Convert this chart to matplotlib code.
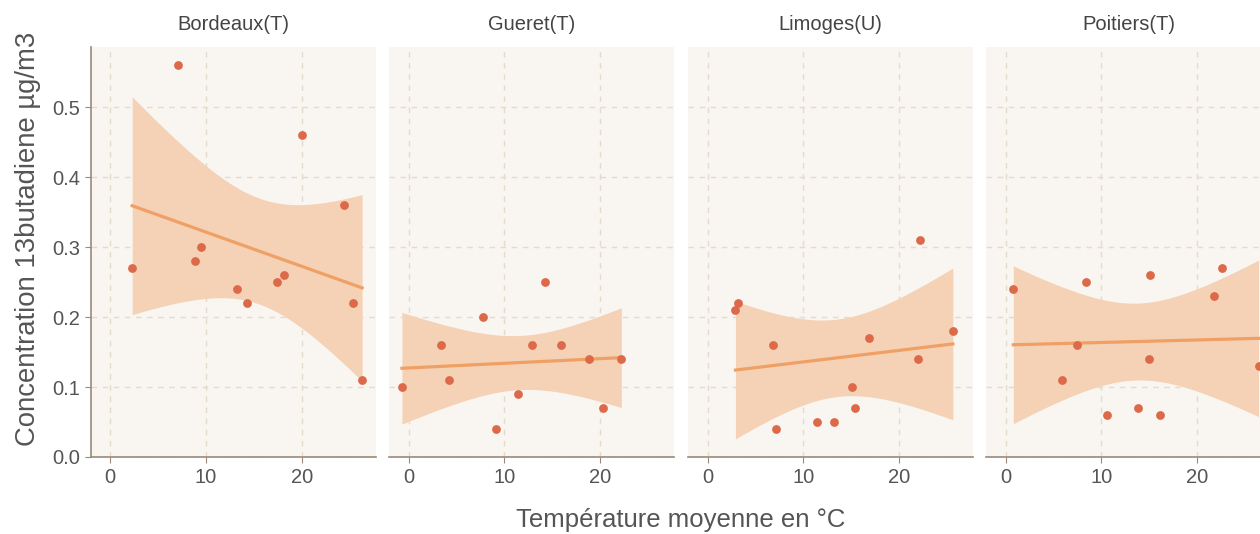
import numpy as np
import matplotlib.pyplot as plt

# %%
sites = ["Bordeaux(T)", "Gueret(T)", "Limoges(U)", "Poitiers(T)"]

temp_bordeaux = [2.3, 7.1, 8.9, 9.5, 13.2, 14.3, 17.4, 18.2, 20.0, 24.4, 25.4, 26.3]
conc_bordeaux = [0.27, 0.56, 0.28, 0.30, 0.24, 0.22, 0.25, 0.26, 0.46, 0.36, 0.22, 0.11]

temp_gueret = [-0.7, 3.4, 4.2, 7.8, 9.1, 11.4, 12.9, 14.2, 15.9, 18.8, 20.3, 22.2]
conc_gueret = [0.10, 0.16, 0.11, 0.20, 0.04, 0.09, 0.16, 0.25, 0.16, 0.14, 0.07, 0.14]

temp_limoges = [2.9, 3.2, 6.8, 7.1, 11.4, 13.2, 15.1, 15.4, 16.8, 22.0, 22.2, 25.6]
conc_limoges = [0.21, 0.22, 0.16, 0.04, 0.05, 0.05, 0.10, 0.07, 0.17, 0.14, 0.31, 0.18]

temp_poitiers = [0.8, 5.9, 7.5, 8.4, 10.6, 13.8, 15.0, 15.1, 16.1, 21.8, 22.6, 26.4]
conc_poitiers = [0.24, 0.11, 0.16, 0.25, 0.06, 0.07, 0.14, 0.26, 0.06, 0.23, 0.27, 0.13]

temps = [temp_bordeaux, temp_gueret, temp_limoges, temp_poitiers]
concs = [conc_bordeaux, conc_gueret, conc_limoges, conc_poitiers]

# %%
bg = "#F9F6F1"
spine_c = "#9A8A7A"
grid_c = "#E4DCCB"
pt_c = "#DC6A4A"
line_c = "#F0A065"
band_c = "#F5D2B5"
txt_c = "#555555"
T_95 = 2.228  # t quantile, df = 10

plt.rcParams['font.family'] = ['Liberation Sans', 'DejaVu Sans']

fig = plt.figure(figsize=(12.6, 5.34), dpi=100)
lefts = [90.5, 389, 688, 986]
W, H = 1260, 534
pw = 285

for i, site in enumerate(sites):
    ax = fig.add_axes([lefts[i] / W, 77 / H, pw / W, 410 / H])
    ax.set_facecolor(bg)
    x = np.array(temps[i])
    y = np.array(concs[i])

    # linear fit + 95% confidence band (like geom_smooth(method="lm"))
    n = len(x)
    b, a = np.polyfit(x, y, 1)
    xs = np.linspace(x.min(), x.max(), 80)
    ys = a + b * xs
    resid = y - (a + b * x)
    s = np.sqrt(np.sum(resid ** 2) / (n - 2))
    se = s * np.sqrt(1 / n + (xs - x.mean()) ** 2 / np.sum((x - x.mean()) ** 2))
    ax.fill_between(xs, ys - T_95 * se, ys + T_95 * se, color=band_c, lw=0, zorder=2)
    ax.plot(xs, ys, color=line_c, lw=2.3, zorder=3)
    ax.scatter(x, y, s=40, color=pt_c, lw=0, zorder=4)

    ax.set_xlim(-2.05, 27.7)
    ax.set_ylim(0, 0.586)
    ax.set_xticks([0, 10, 20])
    ax.set_yticks([0.0, 0.1, 0.2, 0.3, 0.4, 0.5])
    ax.grid(True, color=grid_c, lw=1, ls=(0, (4, 4)), zorder=0)
    ax.set_axisbelow(True)
    for side in ["top", "right"]:
        ax.spines[side].set_visible(False)
    ax.spines["bottom"].set_color(spine_c)
    ax.spines["bottom"].set_linewidth(1.2)
    if i == 0:
        ax.spines["left"].set_color(spine_c)
        ax.spines["left"].set_linewidth(1.2)
        ax.set_yticklabels(["0.0", "0.1", "0.2", "0.3", "0.4", "0.5"])
        ax.tick_params(axis="y", colors=spine_c, labelcolor=txt_c, labelsize=14.5, length=4)
    else:
        ax.spines["left"].set_visible(False)
        ax.tick_params(axis="y", left=False, labelleft=False)
    ax.tick_params(axis="x", colors=spine_c, labelcolor=txt_c, labelsize=14.5, length=4, pad=4)
    ax.set_title(site, fontsize=14.5, color="#444444", pad=12)

fig.text((90.5 + 986 + pw) / 2 / W, 1 - 520 / H, "Température moyenne en °C",
         ha="center", va="center", fontsize=18.5, color=txt_c)
fig.text(28 / W, 1 - 239 / H, "Concentration 13butadiene µg/m3",
         ha="center", va="center", rotation=90, fontsize=19.8, color=txt_c)

fig.savefig("out.png", dpi=100)
